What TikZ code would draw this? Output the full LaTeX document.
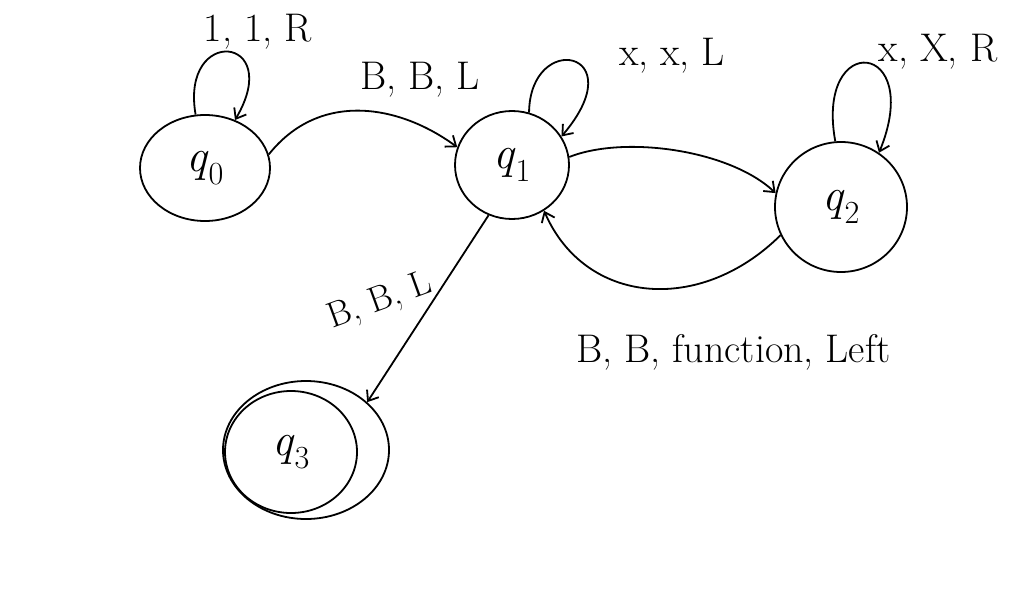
\documentclass[tikz,border=0pt]{standalone}
\usetikzlibrary{arrows.meta,shapes.geometric}
\begin{document}
\begin{tikzpicture}[x=1pt,y=-1pt,line width=1.8pt,
  >={Straight Barb[length=9pt,width=14pt]},
  statebox/.style={ellipse,draw,inner sep=0pt,font=\fontsize{46}{52}\selectfont},
  lbl/.style={font=\fontsize{40}{46}\selectfont},
  edge/.style={->}]
\useasboundingbox (0,0) rectangle (1035,597);
% states
\node[statebox,minimum width=130pt,minimum height=106pt] (q0) at (205,168) {\textit{q}\textsubscript{0}};
\node[statebox,minimum width=114pt,minimum height=108pt] (q1) at (512,165) {\textit{q}\textsubscript{1}};
\node[statebox,minimum width=132pt,minimum height=130pt] (q2) at (841,207) {\textit{q}\textsubscript{2}};
\node[statebox,minimum width=132pt,minimum height=122pt] (q3) at (291,452) {\textit{q}\textsubscript{3}};
\node[ellipse,draw,minimum width=166pt,minimum height=138pt] (q3o) at (306,450) {};
% loops
\draw[edge] (q0.100) .. controls (180,25) and (285,35) .. (q0.58);
\draw[edge] (q1.72) .. controls (530,30) and (635,50) .. (q1.30);
\draw[edge] (q2.95) .. controls (815,30) and (925,40) .. (q2.55);
% transitions
\draw[edge] (q0.12) .. controls (320,90) and (400,105) .. (q1.162);
\draw[edge] (q1.8) .. controls (625,135) and (730,150) .. (q2.168);
\draw[edge] (q2.205) .. controls (700,315) and (585,305) .. (q1.-55);
\draw[edge] (q1.-115) -- (q3o.38);
% labels
\node[lbl] (l1) at (258,32) {1, 1, R};
\node[lbl] (l2) at (420,80) {B, B, L};
\node[lbl] (l3) at (672,56) {x, x, L};
\node[lbl] (l4) at (938,52) {x, X, R};
\node[font=\fontsize{36}{42}\selectfont,rotate=20] (l5) at (380,302) {B, B, L};
\node[lbl,anchor=base west] (l6) at (572,362) {B, B, function, Left};
\end{tikzpicture}
\end{document}
